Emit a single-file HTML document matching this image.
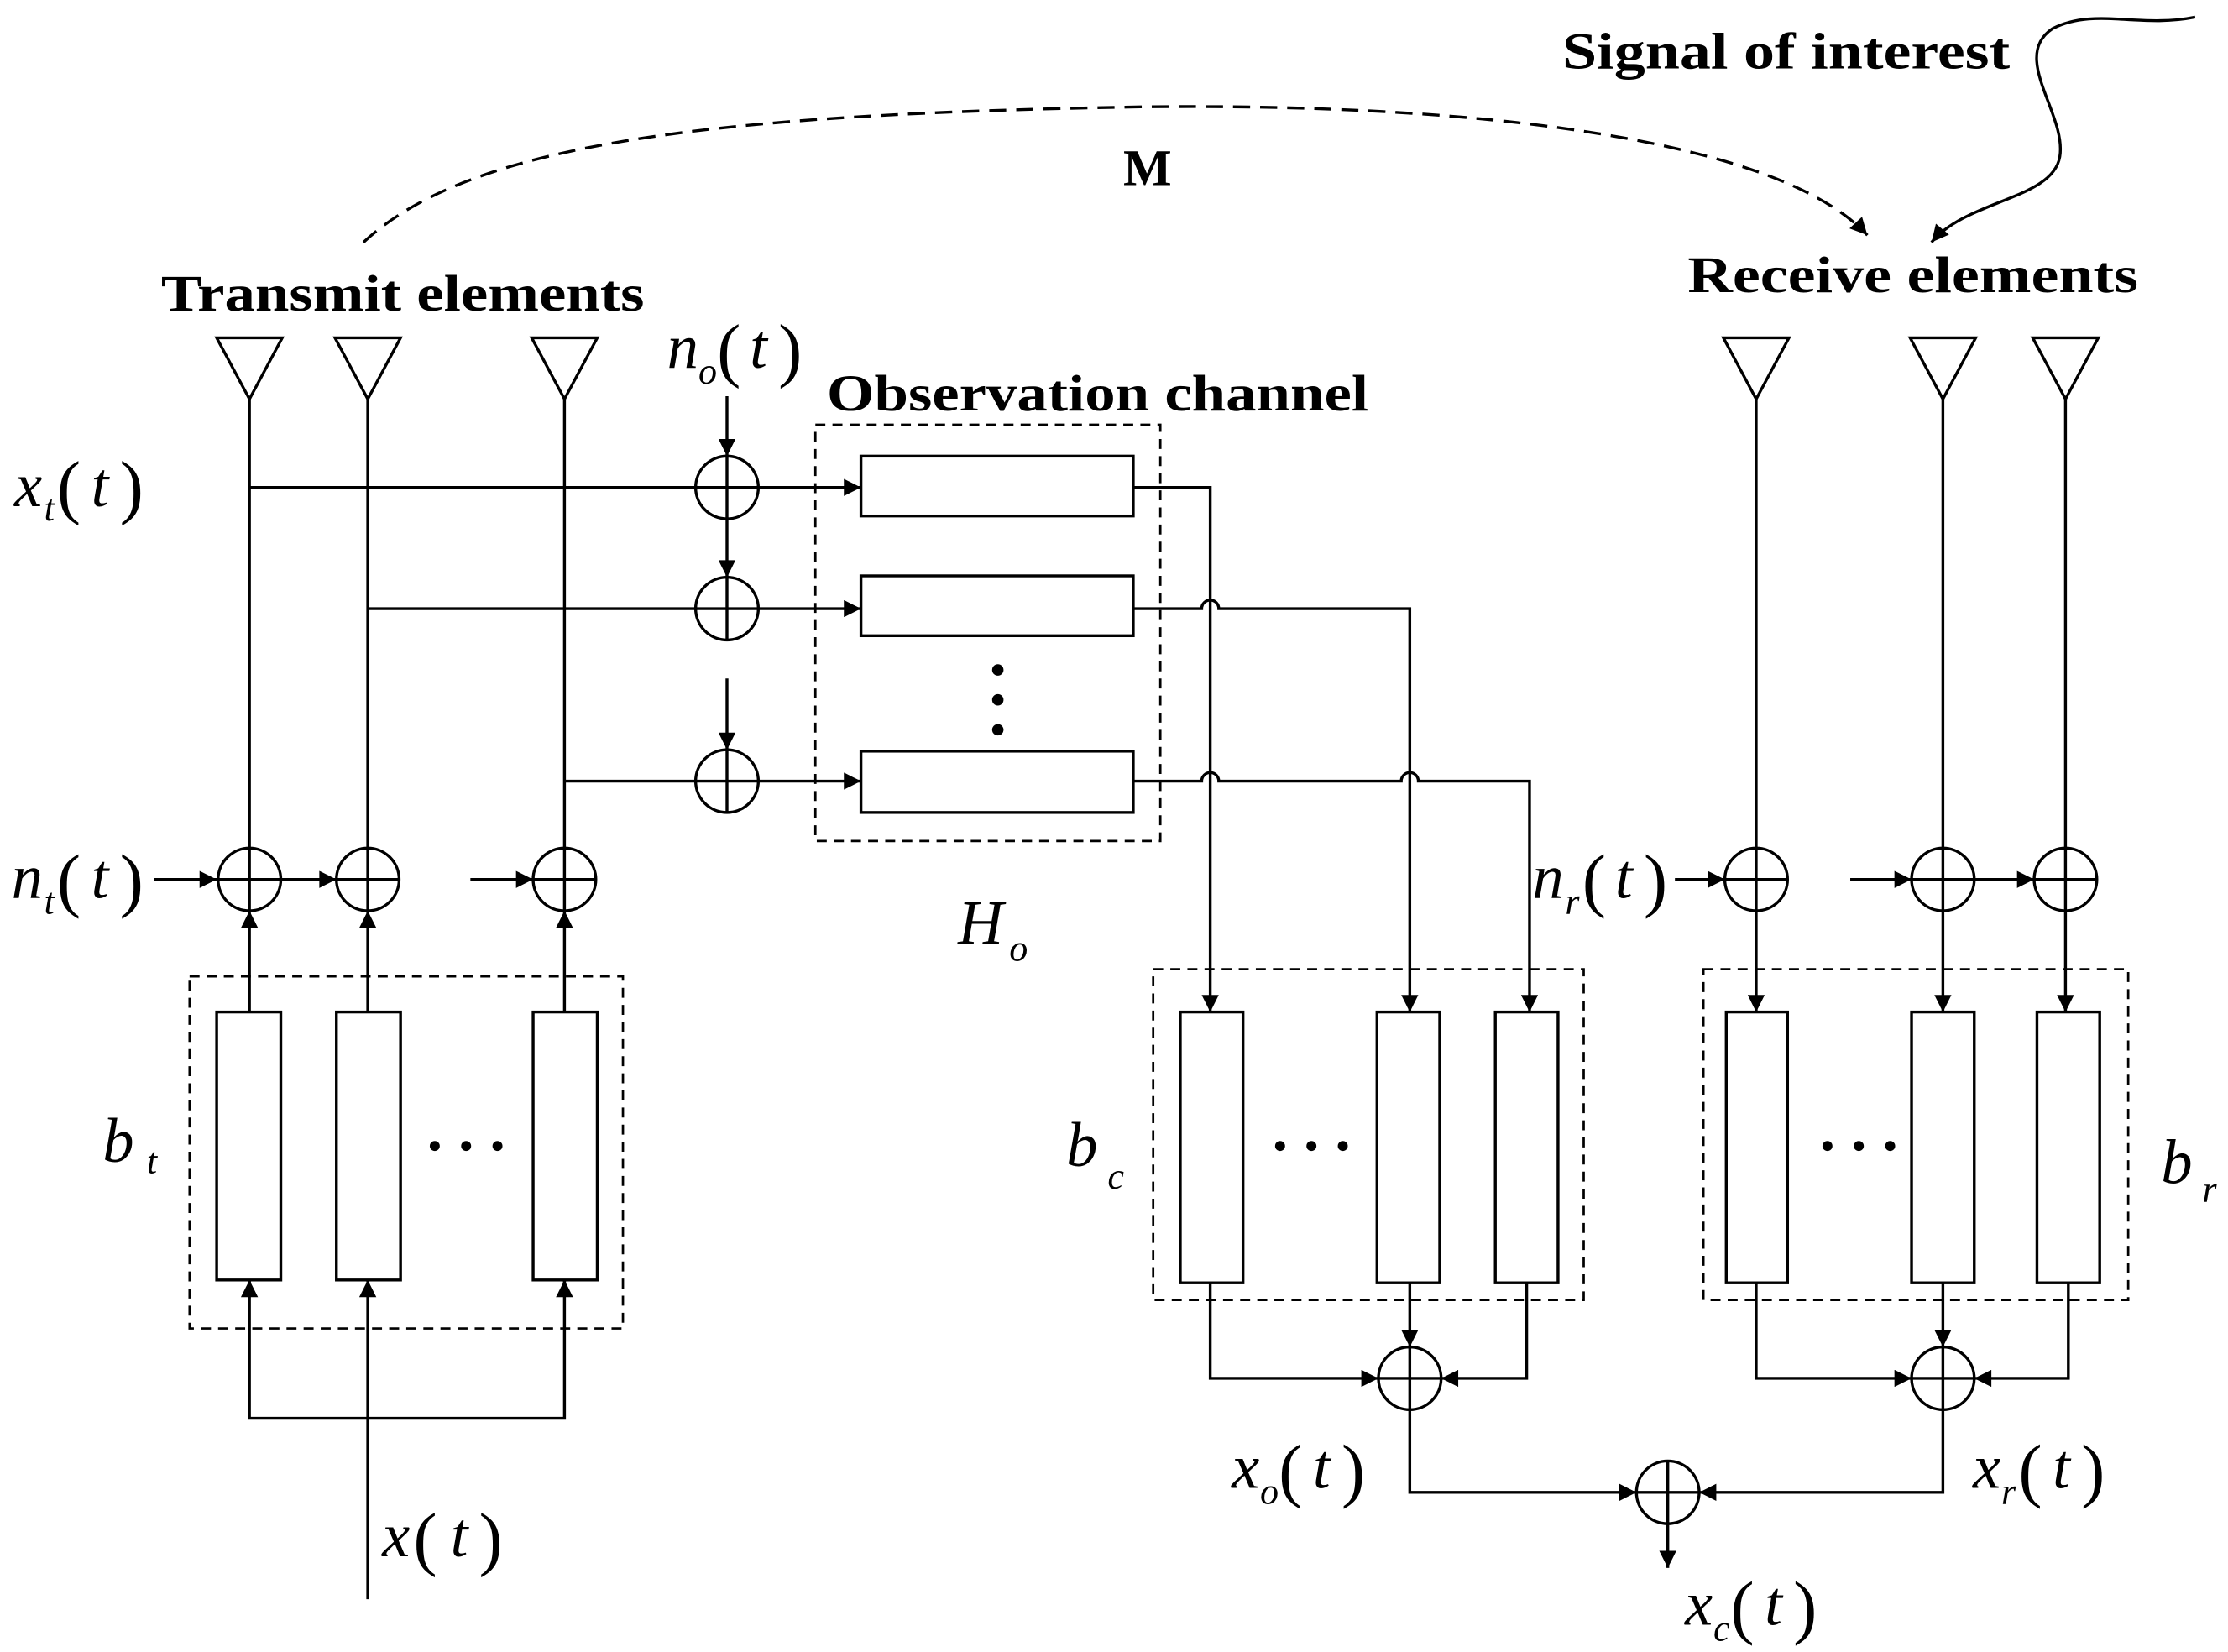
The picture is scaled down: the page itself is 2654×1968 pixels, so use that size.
<!DOCTYPE html>
<html><head><meta charset="utf-8"><style>
html,body{margin:0;padding:0;background:#fff;}
svg{display:block;}
.b{font-family:"Liberation Serif",serif;font-weight:bold;font-size:36px;}
.m{font-family:"Liberation Serif",serif;font-style:italic;font-size:44px;}
.s{font-family:"Liberation Serif",serif;font-style:italic;font-size:26px;}
.p{font-family:"Liberation Serif",serif;font-size:50px;}
</style></head><body>
<svg width="2654" height="1968" viewBox="0 0 1563 1159" preserveAspectRatio="none" xmlns="http://www.w3.org/2000/svg">
<defs><marker id="A" viewBox="0 0 10 10" refX="10" refY="5" markerWidth="14" markerHeight="12" orient="auto" markerUnits="userSpaceOnUse"><path d="M0,0L10,5L0,10z" fill="#000"/></marker></defs>
<g fill="none" stroke="#000" stroke-width="2">
<path d="M152,237H198L175,280z M235,237H281L258,280z M373,237H419L396,280z M1209,237H1255L1232,280z M1340,237H1386L1363,280z M1426,237H1472L1449,280z"/>
<path d="M175,280V595 M258,280V595 M396,280V595 M1232,280V595 M1363,280V595 M1449,280V595"/>
<g>
<circle cx="175" cy="617" r="22"/><circle cx="258" cy="617" r="22"/><circle cx="396" cy="617" r="22"/>
<circle cx="510" cy="342" r="22"/><circle cx="510" cy="427" r="22"/><circle cx="510" cy="548" r="22"/>
<circle cx="1232" cy="617" r="22"/><circle cx="1363" cy="617" r="22"/><circle cx="1449" cy="617" r="22"/>
<circle cx="989" cy="967" r="22"/><circle cx="1363" cy="967" r="22"/><circle cx="1170" cy="1047" r="22"/>
<path d="M153,617H197M175,595V639 M236,617H280M258,595V639 M374,617H418M396,595V639 M488,342H532M510,320V364 M488,427H532M510,405V449 M488,548H532M510,526V570 M1210,617H1254M1232,595V639 M1341,617H1385M1363,595V639 M1427,617H1471M1449,595V639 M967,967H1011M989,945V989 M1341,967H1385M1363,945V989 M1148,1047H1192M1170,1025V1069"/>
</g>
<rect x="152" y="710" width="45" height="188"/><rect x="236" y="710" width="45" height="188"/><rect x="374" y="710" width="45" height="188"/>
<rect x="828" y="710" width="44" height="190"/><rect x="966" y="710" width="44" height="190"/><rect x="1049" y="710" width="44" height="190"/>
<rect x="1211" y="710" width="43" height="190"/><rect x="1341" y="710" width="44" height="190"/><rect x="1429" y="710" width="44" height="190"/>
<rect x="604" y="320" width="191" height="42"/><rect x="604" y="404" width="191" height="42"/><rect x="604" y="527" width="191" height="43"/>
<g stroke-dasharray="7,5" stroke-width="1.6">
<rect x="133" y="685" width="304" height="247"/>
<rect x="572" y="298" width="242" height="292"/>
<rect x="809" y="680" width="302" height="232"/>
<rect x="1195" y="680" width="298" height="232"/>
<path d="M255,170 C330,100 500,80 800,75 C1050,72 1250,100 1310,165" stroke-dasharray="12,7" stroke-width="2" marker-end="url(#A)"/>
</g>
<path d="M1540,12 C1500,20 1470,5 1440,20 C1410,40 1450,80 1445,110 C1440,140 1380,140 1355,170" marker-end="url(#A)"/>
<path d="M108,617H152" marker-end="url(#A)"/><path d="M197,617H236" marker-end="url(#A)"/><path d="M330,617H374" marker-end="url(#A)"/>
<path d="M175,710V639" marker-end="url(#A)"/><path d="M258,710V639" marker-end="url(#A)"/><path d="M396,710V639" marker-end="url(#A)"/>
<path d="M258,1122V898" marker-end="url(#A)"/>
<path d="M175,898V995H396V898"/><path d="M175,910V898" marker-end="url(#A)"/><path d="M396,910V898" marker-end="url(#A)"/>
<path d="M175,342H488 M258,427H488 M396,548H488"/>
<path d="M510,278V320" marker-end="url(#A)"/><path d="M510,364V405" marker-end="url(#A)"/><path d="M510,476V526" marker-end="url(#A)"/>
<path d="M532,342H604" marker-end="url(#A)"/><path d="M532,427H604" marker-end="url(#A)"/><path d="M532,548H604" marker-end="url(#A)"/>
<path d="M795,342H849V710" marker-end="url(#A)"/>
<path d="M795,427H843A6,6 0 0 1 855,427H989V710" marker-end="url(#A)"/>
<path d="M795,548H843A6,6 0 0 1 855,548H983A6,6 0 0 1 995,548H1073V710" marker-end="url(#A)"/>
<path d="M1175,617H1210" marker-end="url(#A)"/><path d="M1298,617H1341" marker-end="url(#A)"/><path d="M1385,617H1427" marker-end="url(#A)"/>
<path d="M1232,639V710" marker-end="url(#A)"/><path d="M1363,639V710" marker-end="url(#A)"/><path d="M1449,639V710" marker-end="url(#A)"/>
<path d="M849,900V967H967" marker-end="url(#A)"/><path d="M989,900V945" marker-end="url(#A)"/><path d="M1071,900V967H1011" marker-end="url(#A)"/>
<path d="M1232,900V967H1341" marker-end="url(#A)"/><path d="M1363,900V945" marker-end="url(#A)"/><path d="M1451,900V967H1385" marker-end="url(#A)"/>
<path d="M989,989V1047H1148" marker-end="url(#A)"/><path d="M1363,989V1047H1192" marker-end="url(#A)"/>
<path d="M1170,1069V1100" marker-end="url(#A)"/>
</g>
<g fill="#000">
<circle cx="700" cy="470" r="4"/><circle cx="700" cy="491" r="4"/><circle cx="700" cy="512" r="4"/>
<circle cx="305" cy="804" r="3.5"/><circle cx="327" cy="804" r="3.5"/><circle cx="349" cy="804" r="3.5"/>
<circle cx="898" cy="804" r="3.5"/><circle cx="920" cy="804" r="3.5"/><circle cx="942" cy="804" r="3.5"/>
<circle cx="1282" cy="804" r="3.5"/><circle cx="1304" cy="804" r="3.5"/><circle cx="1326" cy="804" r="3.5"/>
<text class="b" x="113" y="218" textLength="339" lengthAdjust="spacingAndGlyphs">Transmit elements</text>
<text class="b" x="1184" y="205" textLength="316" lengthAdjust="spacingAndGlyphs">Receive elements</text>
<text class="b" x="1096" y="48" textLength="314" lengthAdjust="spacingAndGlyphs">Signal of interest</text>
<text class="b" x="788" y="130">M</text>
<text class="b" x="580" y="288" textLength="380" lengthAdjust="spacingAndGlyphs">Observation channel</text>
<text class="m" x="10" y="355">x</text><text class="s" x="31" y="365">t</text><text class="p" x="40" y="358">(</text><text class="m" x="64" y="355">t</text><text class="p" x="84" y="358">)</text>
<text class="m" x="8" y="630">n</text><text class="s" x="31" y="641">t</text><text class="p" x="40" y="634">(</text><text class="m" x="64" y="630">t</text><text class="p" x="84" y="634">)</text>
<text class="m" x="468" y="258">n</text><text class="s" x="490" y="269">o</text><text class="p" x="503" y="262">(</text><text class="m" x="526" y="258">t</text><text class="p" x="546" y="262">)</text>
<text class="m" x="1075" y="630">n</text><text class="s" x="1098" y="641">r</text><text class="p" x="1110" y="634">(</text><text class="m" x="1133" y="630">t</text><text class="p" x="1153" y="634">)</text>
<text class="m" x="672" y="662">H</text><text class="s" x="708" y="674">o</text>
<text class="m" x="72" y="815">b</text><text class="s" x="103" y="823">t</text>
<text class="m" x="748" y="818">b</text><text class="s" x="777" y="834">c</text>
<text class="m" x="1516" y="830">b</text><text class="s" x="1545" y="843">r</text>
<text class="m" x="268" y="1092">x</text><text class="p" x="290" y="1096">(</text><text class="m" x="316" y="1092">t</text><text class="p" x="336" y="1096">)</text>
<text class="m" x="864" y="1044">x</text><text class="s" x="884" y="1055">o</text><text class="p" x="897" y="1048">(</text><text class="m" x="921" y="1044">t</text><text class="p" x="941" y="1048">)</text>
<text class="m" x="1384" y="1044">x</text><text class="s" x="1404" y="1055">r</text><text class="p" x="1416" y="1048">(</text><text class="m" x="1440" y="1044">t</text><text class="p" x="1460" y="1048">)</text>
<text class="m" x="1182" y="1140">x</text><text class="s" x="1202" y="1151">c</text><text class="p" x="1214" y="1144">(</text><text class="m" x="1238" y="1140">t</text><text class="p" x="1258" y="1144">)</text>
</g>
</svg>
</body></html>
